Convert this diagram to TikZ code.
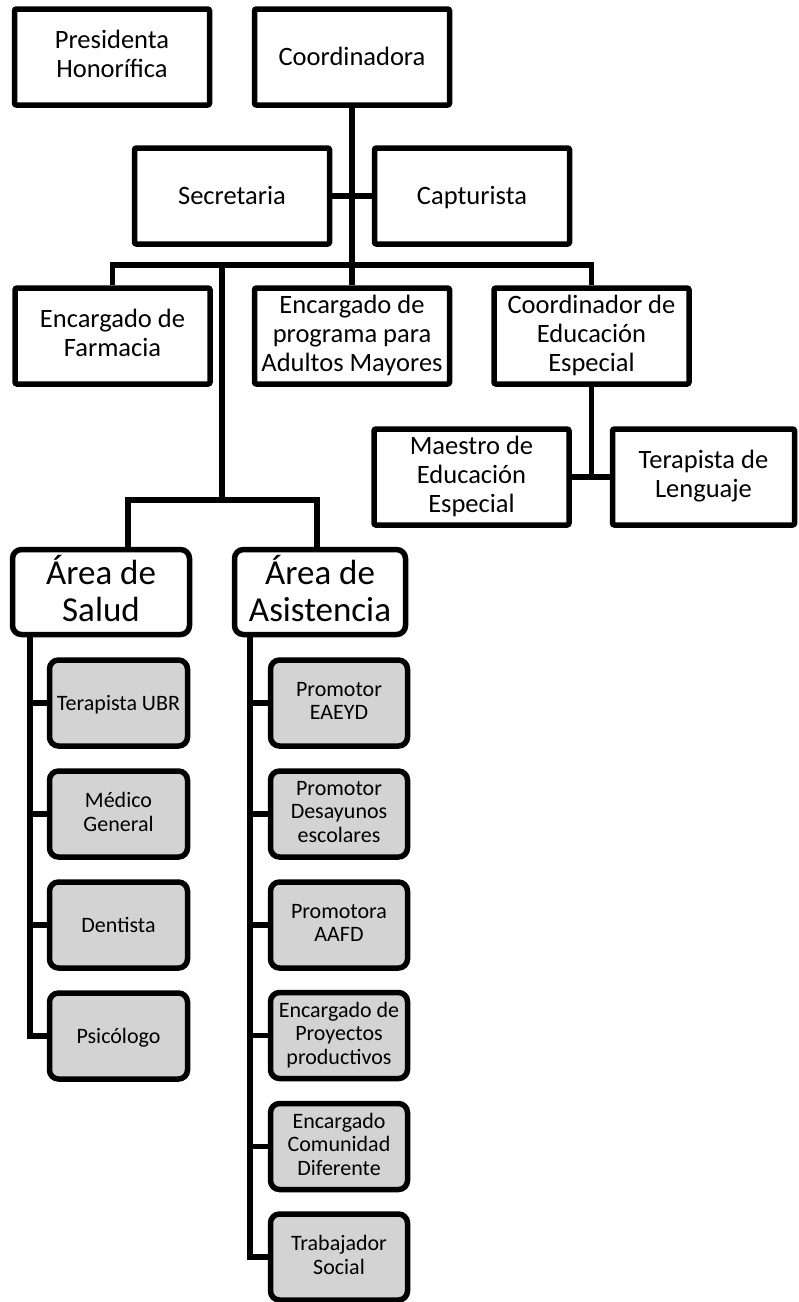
\documentclass[tikz,border=0pt]{standalone}
\usepackage{fontspec}
\setmainfont{Carlito}
\definecolor{boxgray}{RGB}{211,211,211}
\newcommand\mystrut{\rule[-0.21em]{0pt}{1.06em}}
\tikzset{
  basebox/.style={draw, line width=5.5pt, inner sep=0pt, align=center,
    execute at begin node=\mystrut, execute at end node=\mystrut},
  topbox/.style={basebox, rounded corners=2pt,
    minimum width=195pt, minimum height=96pt, font=\fontsize{26.5}{29}\selectfont},
  areabox/.style={basebox, rounded corners=9pt,
    minimum height=85pt, font=\fontsize{35}{37}\selectfont},
  graybox/.style={basebox, fill=boxgray, rounded corners=9pt,
    minimum width=138pt, minimum height=86pt, font=\fontsize{22}{23.5}\selectfont},
  conn/.style={line width=5.5pt}
}
\begin{document}
\begin{tikzpicture}[x=1pt,y=-1pt]
\useasboundingbox (0,0) rectangle (799,1302);
% top level
\node[topbox] (pres) at (112,57) {Presidenta\\Honorífica};
\node[topbox] (coord) at (352,57) {Coordinadora};
\node[topbox] (sec) at (232,196) {Secretaria};
\node[topbox] (cap) at (472,196) {Capturista};
\node[topbox] (farm) at (112.5,336) {Encargado de\\Farmacia};
\node[topbox] (prog) at (352,336) {Encargado de\\programa para\\Adultos Mayores};
\node[topbox] (ceduc) at (591.5,336) {Coordinador de\\Educación\\Especial};
\node[topbox] (maestro) at (471.5,477) {Maestro de\\Educación\\Especial};
\node[topbox, minimum width=182pt] (leng) at (703.5,477) {Terapista de\\Lenguaje};
% areas
\node[areabox, minimum width=177pt] (salud) at (101,592) {Área de\\Salud};
\node[areabox, minimum width=171pt] (asis) at (320,592) {Área de\\Asistencia};
% salud items
\node[graybox] (ubr) at (118.5,703) {Terapista UBR};
\node[graybox] (medico) at (118.5,814) {Médico\\General};
\node[graybox] (dent) at (118.5,925) {Dentista};
\node[graybox] (psic) at (118.5,1036) {Psicólogo};
% asistencia items
\node[graybox, minimum width=137pt] (eaeyd) at (339,703) {Promotor\\EAEYD};
\node[graybox, minimum width=137pt] (desay) at (339,814) {Promotor\\Desayunos\\escolares};
\node[graybox, minimum width=137pt] (aafd) at (339,925) {Promotora\\AAFD};
\node[graybox, minimum width=137pt] (proy) at (339,1035.5) {Encargado de\\Proyectos\\productivos};
\node[graybox, minimum width=137pt] (comun) at (339,1146.5) {Encargado\\Comunidad\\Diferente};
\node[graybox, minimum width=137pt] (trab) at (339,1257) {Trabajador\\Social};
% junction coordinates
\coordinate (bus) at (352,265);
\coordinate (busA) at (222,265);
\coordinate (areaJ) at (222,500);
\coordinate (sJ) at (128,500);
\coordinate (aJ) at (317,500);
\coordinate (sV) at (30,0);
\coordinate (aV) at (250,0);
% connectors
\draw[conn] (coord.south) -- (prog.north);
\draw[conn] (sec.east) -- (cap.west);
\draw[conn] (farm.north) |- (bus) -| (ceduc.north);
\draw[conn] (busA) -- (areaJ);
\draw[conn] (salud.north -| sJ) |- (aJ) -- (asis.north -| aJ);
\draw[conn] (ceduc.south) -- (ceduc.south |- maestro.east);
\draw[conn] (maestro.east) -- (leng.west);
\draw[conn] (salud.south -| sV) |- (psic.west);
\draw[conn] (ubr.west -| sV) -- (ubr.west);
\draw[conn] (medico.west -| sV) -- (medico.west);
\draw[conn] (dent.west -| sV) -- (dent.west);
\draw[conn] (asis.south -| aV) |- (trab.west);
\draw[conn] (eaeyd.west -| aV) -- (eaeyd.west);
\draw[conn] (desay.west -| aV) -- (desay.west);
\draw[conn] (aafd.west -| aV) -- (aafd.west);
\draw[conn] (proy.west -| aV) -- (proy.west);
\draw[conn] (comun.west -| aV) -- (comun.west);
\end{tikzpicture}
\end{document}
